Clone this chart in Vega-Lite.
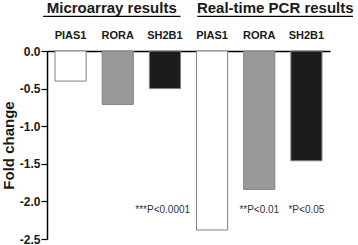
{
  "$schema": "https://vega.github.io/schema/vega-lite/v6.json",
  "width": 283,
  "height": 188,
  "autosize": {"type": "none"},
  "padding": {"left": 47, "top": 51, "right": 28, "bottom": 6},
  "background": "white",
  "config": {
    "font": "Liberation Sans",
    "view": {"stroke": null},
    "locale": {"number": {"decimal": ".", "thousands": ",", "grouping": [3], "currency": ["$", ""], "minus": "-"}},
    "axisY": {
      "values": [0, -0.5, -1, -1.5, -2, -2.5],
      "format": ".1f",
      "labelOverlap": false,
      "labelBound": false,
      "labelSeparation": 0,
      "titleFontSize": 15, "titleFontWeight": "bold",
      "titleColor": "#1a1a1a", "titlePadding": 3,
      "labelFontSize": 12, "labelFontWeight": "bold", "labelColor": "#1a1a1a",
      "domainColor": "black", "domainWidth": 1.5, "tickColor": "black",
      "tickSize": 6, "tickWidth": 1.2, "labelPadding": 1, "grid": false
    }
  },
  "datasets": {
    "bars": [
      {"key": "M-PIAS1", "gene": "PIAS1", "value": -0.4},
      {"key": "M-RORA", "gene": "RORA", "value": -0.71},
      {"key": "M-SH2B1", "gene": "SH2B1", "value": -0.5},
      {"key": "P-PIAS1", "gene": "PIAS1", "value": -2.38},
      {"key": "P-RORA", "gene": "RORA", "value": -1.84},
      {"key": "P-SH2B1", "gene": "SH2B1", "value": -1.46}
    ],
    "groups": [
      {"group": "M", "label": "Microarray results", "start": "M-PIAS1", "mid": "M-RORA", "end": "M-SH2B1"},
      {"group": "P", "label": "Real-time PCR results", "start": "P-PIAS1", "mid": "P-RORA", "end": "P-SH2B1"}
    ],
    "notes": [
      {"key": "P-PIAS1", "note": "***P<0.0001", "pos": -2.12}
    ],
    "notes2": [
      {"key": "P-RORA", "note": "**P<0.01", "pos": -2.12},
      {"key": "P-SH2B1", "note": "*P<0.05", "pos": -2.12}
    ]
  },
  "layer": [
    {
      "data": {"name": "bars"},
      "mark": {"type": "bar", "stroke": "#808080", "strokeWidth": 1},
      "encoding": {
        "x": {
          "field": "key", "type": "nominal", "sort": null,
          "scale": {"paddingInner": 0.34, "paddingOuter": 0.17},
          "axis": {
            "orient": "top", "title": null, "ticks": false, "domain": true,
            "domainColor": "black", "domainWidth": 1.5,
            "labelAngle": 0, "labelFont": "Liberation Sans", "labelFontWeight": "bold",
            "labelFontSize": 11, "labelColor": "#1a1a1a", "labelPadding": 11,
            "labelExpr": "slice(datum.label, 2)"
          }
        },
        "y": {
          "field": "value", "type": "quantitative",
          "scale": {"domain": [-2.5, 0], "nice": false, "zero": false},
          "axis": {"title": "Fold change", "values": [0, -0.5, -1, -1.5, -2, -2.5], "labelOverlap": false}
        },
        "y2": {"datum": 0},
        "color": {
          "field": "gene", "type": "nominal",
          "scale": {"domain": ["PIAS1", "RORA", "SH2B1"], "range": ["#ffffff", "#999999", "#1c1c1c"]},
          "legend": null
        }
      }
    },
    {
      "mark": {"type": "rule", "color": "black", "strokeWidth": 1.5},
      "encoding": {"y": {"datum": -2.5, "type": "quantitative", "axis": {"title": "Fold change", "values": [0, -0.5, -1, -1.5, -2, -2.5], "labelOverlap": false}}}
    },
    {
      "data": {"name": "groups"},
      "transform": [{"filter": "datum.group === 'M'"}],
      "mark": {"type": "rule", "color": "black", "strokeWidth": 1.2, "xOffset": -12, "x2Offset": 0},
      "encoding": {
        "x": {"field": "start", "type": "nominal", "bandPosition": 0},
        "x2": {"field": "end", "bandPosition": 1},
        "y": {"datum": 0.46, "type": "quantitative", "axis": {"title": "Fold change", "values": [0, -0.5, -1, -1.5, -2, -2.5], "labelOverlap": false}}
      }
    },
    {
      "data": {"name": "groups"},
      "transform": [{"filter": "datum.group === 'P'"}],
      "mark": {"type": "rule", "color": "black", "strokeWidth": 1.2, "xOffset": 1, "x2Offset": 31},
      "encoding": {
        "x": {"field": "start", "type": "nominal", "bandPosition": 0},
        "x2": {"field": "end", "bandPosition": 1},
        "y": {"datum": 0.46, "type": "quantitative", "axis": {"title": "Fold change", "values": [0, -0.5, -1, -1.5, -2, -2.5], "labelOverlap": false}}
      }
    },
    {
      "data": {"name": "groups"},
      "transform": [{"filter": "datum.group === 'M'"}],
      "mark": {"type": "text", "fontSize": 15, "fontWeight": "bold", "color": "#1a1a1a", "baseline": "alphabetic", "align": "center", "dx": -6},
      "encoding": {
        "x": {"field": "mid", "type": "nominal"},
        "y": {"datum": 0.5, "type": "quantitative", "axis": {"title": "Fold change", "values": [0, -0.5, -1, -1.5, -2, -2.5], "labelOverlap": false}},
        "text": {"field": "label"}
      }
    },
    {
      "data": {"name": "groups"},
      "transform": [{"filter": "datum.group === 'P'"}],
      "mark": {"type": "text", "fontSize": 15, "fontWeight": "bold", "color": "#1a1a1a", "baseline": "alphabetic", "align": "center", "dx": 16},
      "encoding": {
        "x": {"field": "mid", "type": "nominal"},
        "y": {"datum": 0.5, "type": "quantitative", "axis": {"title": "Fold change", "values": [0, -0.5, -1, -1.5, -2, -2.5], "labelOverlap": false}},
        "text": {"field": "label"}
      }
    },
    {
      "data": {"name": "notes"},
      "mark": {"type": "text", "fontSize": 10, "color": "#333333", "align": "right", "baseline": "middle", "dx": -22},
      "encoding": {
        "x": {"field": "key", "type": "nominal"},
        "y": {"field": "pos", "type": "quantitative", "axis": {"title": "Fold change", "values": [0, -0.5, -1, -1.5, -2, -2.5], "labelOverlap": false}},
        "text": {"field": "note"}
      }
    },
    {
      "data": {"name": "notes2"},
      "mark": {"type": "text", "fontSize": 10, "color": "#333333", "align": "center", "baseline": "middle"},
      "encoding": {
        "x": {"field": "key", "type": "nominal"},
        "y": {"field": "pos", "type": "quantitative", "axis": {"title": "Fold change", "values": [0, -0.5, -1, -1.5, -2, -2.5], "labelOverlap": false}},
        "text": {"field": "note"}
      }
    }
  ]
}
